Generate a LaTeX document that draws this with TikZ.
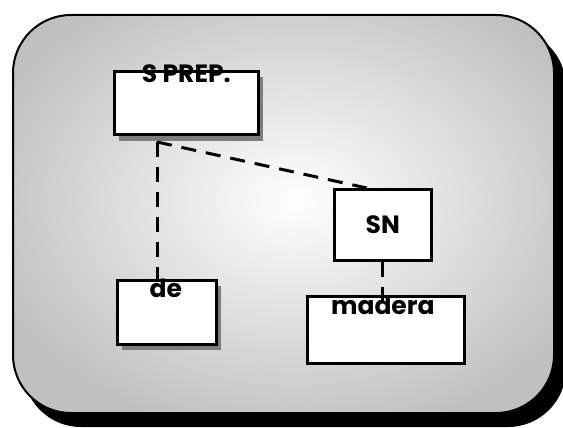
\documentclass[tikz,border=0pt]{standalone}
\usepackage{fontspec}
\setmainfont{Poppins}
\definecolor{edgegray}{RGB}{192,192,192}
\definecolor{shadowgray}{RGB}{125,125,125}
\begin{document}
\begin{tikzpicture}[x=1pt,y=-1pt,
  box/.style={draw=black, line width=2.6pt, fill=white, inner sep=0pt, anchor=north west},
  boxshadow/.style={fill=shadowgray},
  lbl/.style={font=\bfseries\fontsize{25}{25}\selectfont, inner sep=0pt},
  dashline/.style={line width=3pt, dash pattern=on 15pt off 10pt}]
\useasboundingbox (0,0) rectangle (563,428);
\begin{scope}
\clip (0,0) rectangle (563,428);
% outer shadow
\fill[black, rounded corners=58pt] (23,29) rectangle (566,427);
% outer panel
\begin{scope}
\clip[rounded corners=58pt] (13,15) rectangle (554,413);
\shade[inner color=white, outer color=edgegray] (-30,-40) rectangle (620,440);
\end{scope}
\draw[black, line width=2pt, rounded corners=58pt] (13,15) rectangle (554,413);
\end{scope}
% box shadows
\fill[boxshadow] (119,77) rectangle (263,141);
\fill[boxshadow] (122,286) rectangle (221,350);
% boxes
\node[box, minimum width=144pt, minimum height=63pt] (sprep) at (113,70) {};
\node[box, minimum width=97pt, minimum height=71pt] (sn) at (333,188) {};
\node[box, minimum width=99pt, minimum height=64pt] (de) at (116,279) {};
\node[box, minimum width=157pt, minimum height=67pt] (madera) at (306,295) {};
% labels
\node[lbl] (sprepL) at ([yshift=-4pt]sprep.north) {S PREP.};
\node[lbl] (snL) at (sn.center) {SN};
\node[lbl] (deL) at ([xshift=-1pt,yshift=-9pt]de.north) {de};
\node[lbl] (maderaL) at ([xshift=-3pt,yshift=-10pt]madera.north) {madera};
% connectors
\coordinate (j) at (157,142);
\coordinate (snin) at ([xshift=-16pt]sn.north);
\draw[dashline] (j) -- (snin);
\draw[dashline] (j) -- ([yshift=-6pt]j |- de.north);
\draw[dashline] (sn.south) -- ([yshift=-6pt]sn.south |- madera.north);
\end{tikzpicture}
\end{document}
